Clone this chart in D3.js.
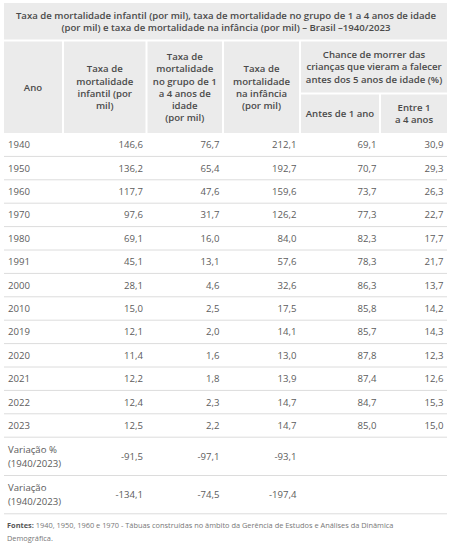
<!DOCTYPE html>
<html><head><meta charset="utf-8">
<script src="https://cdn.jsdelivr.net/npm/d3@7"></script>
<style>body{margin:0;background:#fff;} svg{display:block;font-family:"Open Sans",sans-serif;}</style>
</head><body>
<script>
const titleLines = ["Taxa de mortalidade infantil (por mil), taxa de mortalidade no grupo de 1 a 4 anos de idade",
  "(por mil) e taxa de mortalidade na infância (por mil) – Brasil –1940/2023"];
const years = ["1940","1950","1960","1970","1980","1991","2000","2010","2019","2020","2021","2022","2023"];
const infantil = [146.6,136.2,117.7,97.6,69.1,45.1,28.1,15.0,12.1,11.4,12.2,12.4,12.5];
const grupo1a4 = [76.7,65.4,47.6,31.7,16.0,13.1,4.6,2.5,2.0,1.6,1.8,2.3,2.2];
const infancia = [212.1,192.7,159.6,126.2,84.0,57.6,32.6,17.5,14.1,13.0,13.9,14.7,14.7];
const antes1 = [69.1,70.7,73.7,77.3,82.3,78.3,86.3,85.8,85.7,87.8,87.4,84.7,85.0];
const entre1a4 = [30.9,29.3,26.3,22.7,17.7,21.7,13.7,14.2,14.3,12.3,12.6,15.3,15.0];
const varLabels = [["Variação %","(1940/2023)"],["Variação","(1940/2023)"]];
const varPct = [-91.5,-97.1,-93.1];
const varAbs = [-134.1,-74.5,-197.4];
const colHeaders = [["Ano"],["Taxa de","mortalidade","infantil (por","mil)"],["Taxa de","mortalidade","no grupo de 1","a 4 anos de","idade","(por mil)"],["Taxa de","mortalidade","na infância","(por mil)"]];
const groupHeader = ["Chance de morrer das","crianças que vieram a falecer","antes dos 5 anos de idade (%)"];
const subHeaders = [["Antes de 1 ano"],["Entre 1","a 4 anos"]];
const sourceText = ["1940, 1950, 1960 e 1970 - Tábuas construídas no âmbito da Gerência de Estudos e Análises da Dinâmica","Demográfica."];

const W=452,H=551;
const svg=d3.select("body").append("svg").attr("width",W).attr("height",H);
const fmt = v => d3.format(".1f")(v).replace(".",",").replace("−","-");
const edges=[4,63,146.5,223,300,380,447];
const x=d3.scaleOrdinal().domain(d3.range(7)).range(edges);
const hdrBg="#ebebeb", hdrTxt="#4a4a4a", bodyTxt="#5c5c5c", lineC="#dcdcdc";
const fsH=9.6, fsB=9.6, lhH=12.3;

// title block
svg.append("rect").attr("x",4).attr("y",3).attr("width",443).attr("height",36.5).attr("fill",hdrBg);
const tt=svg.append("text").attr("text-anchor","middle").attr("fill",hdrTxt).attr("font-weight",600).attr("font-size",fsH);
titleLines.forEach((l,i)=>tt.append("tspan").attr("x",226).attr("y",19+i*11.6).text(l));

// header cells
function cell(x0,x1,y0,y1,lines){
  svg.append("rect").attr("x",x0).attr("y",y0).attr("width",x1-x0).attr("height",y1-y0).attr("fill",hdrBg);
  const cy=(y0+y1)/2, n=lines.length;
  const t=svg.append("text").attr("text-anchor","middle").attr("fill",hdrTxt).attr("font-weight",600).attr("font-size",fsH);
  lines.forEach((l,i)=>t.append("tspan").attr("x",(x0+x1)/2).attr("y",cy+(i-(n-1)/2)*lhH+3.4).text(l));
}
const hy0=41.5, hyMid=93.5, hy1=133;
colHeaders.forEach((h,i)=>cell(x(i)+(i?1:0),x(i+1)-1,hy0,hy1,h));
cell(x(4)+1,x(6),hy0,hyMid-1,groupHeader);
cell(x(4)+1,x(5)-1,hyMid+1,hy1,subHeaders[0]);
cell(x(5)+1,x(6),hyMid+1,hy1,subHeaders[1]);

// body rows
const series=[infantil,grupo1a4,infancia,antes1,entre1a4];
const rowH=23.4, y0=hy1;
const y=d3.scaleLinear().domain([0,years.length]).range([y0,y0+rowH*years.length]);
years.forEach((yr,r)=>{
  const cy=(y(r)+y(r+1))/2+3.4;
  svg.append("text").attr("x",8).attr("y",cy).attr("fill",bodyTxt).attr("font-size",fsB).text(yr);
  series.forEach((s,c)=>svg.append("text").attr("x",x(c+2)-3.5).attr("y",cy).attr("text-anchor","end").attr("fill",bodyTxt).attr("font-size",fsB).text(fmt(s[r])));
  svg.append("line").attr("x1",4).attr("x2",447).attr("y1",y(r+1)).attr("y2",y(r+1)).attr("stroke",lineC).attr("stroke-width",1);
});
const varH=38.3;
[varPct,varAbs].forEach((vals,k)=>{
  const top=y(years.length)+k*varH, cy=top+varH/2+3.4;
  const t=svg.append("text").attr("fill",bodyTxt).attr("font-size",fsB);
  varLabels[k].forEach((l,i)=>t.append("tspan").attr("x",8).attr("y",cy+(i-0.5)*14.3).text(l));
  vals.forEach((v,c)=>svg.append("text").attr("x",x(c+2)-3.5).attr("y",cy).attr("text-anchor","end").attr("fill",bodyTxt).attr("font-size",fsB).text(fmt(v)));
  svg.append("line").attr("x1",4).attr("x2",447).attr("y1",top+varH).attr("y2",top+varH).attr("stroke",lineC).attr("stroke-width",1);
});

// source
const sy=y(years.length)+2*varH;
const st=svg.append("text").attr("font-size",7.4).attr("fill","#777");
st.append("tspan").attr("x",7).attr("y",sy+14.5).attr("font-weight",700).attr("fill","#555").text("Fontes: ");
st.append("tspan").text(sourceText[0]);
svg.append("text").attr("font-size",7.4).attr("fill","#777").attr("x",7).attr("y",sy+27.5).text(sourceText[1]);
</script>
</body></html>
